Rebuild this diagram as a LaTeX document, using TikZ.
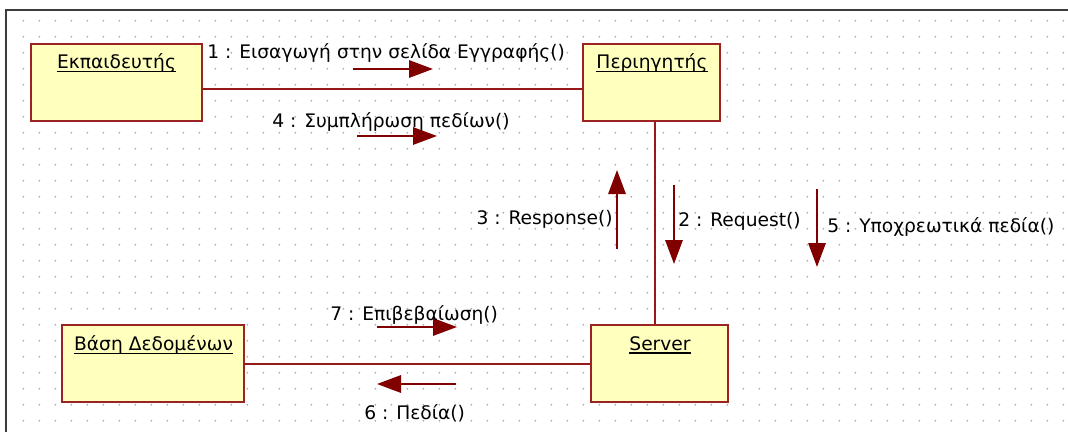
\documentclass[tikz,border=0pt]{standalone}
\usepackage{fontspec}
\setmainfont{DejaVu Sans}
\usetikzlibrary{arrows.meta}

\definecolor{boxfill}{RGB}{255,255,190}
\definecolor{boxline}{RGB}{155,35,35}
\definecolor{linkline}{RGB}{150,25,25}
\definecolor{msgred}{RGB}{128,0,0}
\definecolor{gridgray}{RGB}{175,175,175}
\definecolor{framegray}{RGB}{60,60,60}

% underlined object name, the rule sitting just below the baseline
\newcommand\objname[1]{\setbox0\hbox{#1}\rlap{\rule[-2.4pt]{\wd0}{0.9pt}}\box0}

\tikzset{
  objbox/.style={draw=boxline, fill=boxfill, line width=1.5pt, inner sep=0pt,
                 minimum height=77*0.75pt},
  objtitle/.style={inner sep=0pt, font=\fontsize{14pt}{16pt}\selectfont},
  msglabel/.style={inner sep=0pt, font=\fontsize{14pt}{16pt}\selectfont},
  link/.style={draw=linkline, line width=1.5pt},
  msgarrow/.style={draw=msgred, line width=1.5pt,
                   -{Triangle[length=18pt,width=13pt]}, fill=msgred},
}

\begin{document}
\begin{tikzpicture}[x=0.75pt, y=-0.75pt]
  \useasboundingbox (0,0) rectangle (1068,432);
  \fill[white] (0,0) rectangle (1068,432);

  % dotted drawing grid
  \foreach \i in {0,...,65} {
    \foreach \j in {0,...,25} {
      \fill[gridgray] (23.4+16*\i, 20.8+16*\j) circle (1.0);
    }
  }

  % canvas frame
  \draw[framegray, line width=1.1pt] (6,432) -- (6,10) -- (1068,10);

  % objects
  \node[objbox, minimum width=171*0.75pt] (instructor) at (116.5,82.5) {};
  \node[objbox, minimum width=137*0.75pt] (browser)    at (651.5,82.5) {};
  \node[objbox, minimum width=137*0.75pt] (server)     at (659.5,363.5) {};
  \node[objbox, minimum width=182*0.75pt] (db)         at (153,363.5) {};

  \node[objtitle] (instructor-t) at (116.5,63) {\objname{Εκπαιδευτής}};
  \node[objtitle] (browser-t)    at (652,63)   {\objname{Περιηγητής}};
  \node[objtitle] (server-t)     at (660,345)  {\objname{Server}};
  \node[objtitle] (db-t)         at (153.5,345) {\objname{Βάση Δεδομένων}};

  % links between objects
  \draw[link] ([yshift=-6.2*0.75pt]instructor.east) -- ([yshift=-6.2*0.75pt]browser.west);
  \draw[link] ([xshift=3.5*0.75pt]browser.south) -- ([xshift=-4.5*0.75pt]server.north);
  \draw[link] (db.east) -- (server.west);

  % message arrows
  \coordinate (m1a) at (353,69);  \coordinate (m1b) at (433,69);
  \coordinate (m4a) at (357,136); \coordinate (m4b) at (437,136);
  \coordinate (m3a) at (617,249); \coordinate (m3b) at (617,170);
  \coordinate (m2a) at (674,185); \coordinate (m2b) at (674,264);
  \coordinate (m5a) at (817,189); \coordinate (m5b) at (817,267);
  \coordinate (m7a) at (377,327); \coordinate (m7b) at (457,327);
  \coordinate (m6a) at (456,384); \coordinate (m6b) at (377,384);
  \foreach \m in {1,4,3,2,5,7,6} { \draw[msgarrow] (m\m a) -- (m\m b); }

  % message labels
  \node[msglabel, anchor=west] (l1) at (207,53)  {1 : Εισαγωγή στην σελίδα Εγγραφής()};
  \node[msglabel, anchor=west] (l4) at (272,122) {4 : Συμπλήρωση πεδίων()};
  \node[msglabel, anchor=east] (l3) at (613,219) {3 : Response()};
  \node[msglabel, anchor=west] (l2) at (678,221) {2 : Request()};
  \node[msglabel, anchor=west] (l5) at (827,227) {5 : Υποχρεωτικά πεδία()};
  \node[msglabel, anchor=west] (l7) at (330,315) {7 : Επιβεβαίωση()};
  \node[msglabel, anchor=west] (l6) at (364,413) {6 : Πεδία()};
\end{tikzpicture}
\end{document}
